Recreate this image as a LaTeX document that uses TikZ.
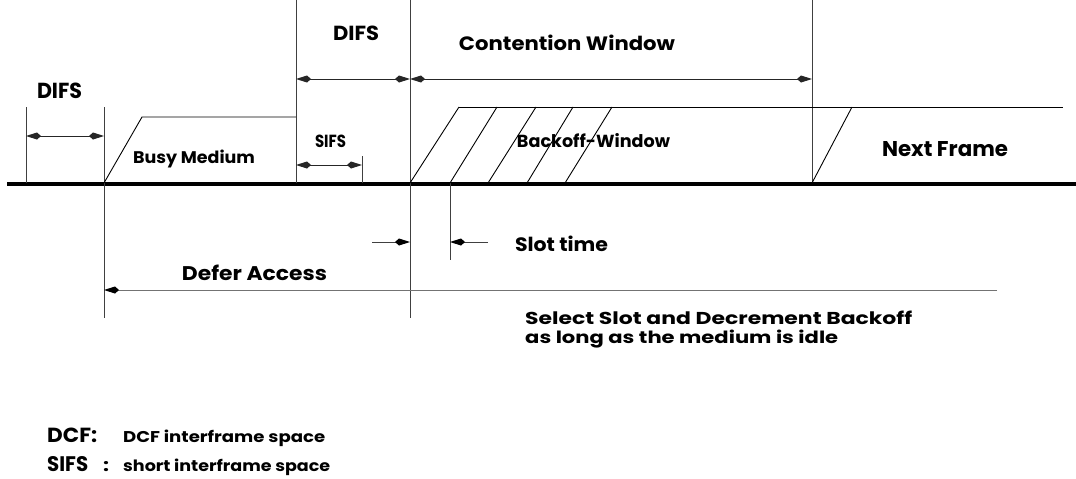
\documentclass[tikz,border=0pt]{standalone}
\usepackage{fontspec}
\setmainfont{Poppins}
\usetikzlibrary{arrows.meta}
\newcommand{\fw}[3]{\resizebox{#1pt}{#2pt}{#3}}
\begin{document}
\begin{tikzpicture}[x=1pt,y=-1pt,
  thinl/.style={line width=1pt, draw=black!75},
  kt/.tip={Kite[length=15pt,width=7pt,inset=4pt]},
  ktb/.tip={Kite[length=15pt,width=7pt,inset=4pt,color=black]},
  dimboth/.style={line width=1pt, draw=black!85, kt-kt},
  dimend/.style={line width=1pt, draw=black!75, -ktb},
  lbl/.style={inner sep=0pt, font=\bfseries, anchor=base},
  lblw/.style={inner sep=0pt, font=\bfseries, anchor=base west},
]
\useasboundingbox (0,0) rectangle (1076,479);
% baseline
\coordinate (b0) at (7,184);
\coordinate (b1) at (1076,184);
\draw[line width=4pt] (b0) -- (b1);
% vertical markers
\coordinate (v1t) at (26,107);   \coordinate (v1b) at (26,183);
\coordinate (v2t) at (104,107);  \coordinate (v2b) at (104,318);
\coordinate (v3t) at (296,0);    \coordinate (v3b) at (296,183);
\coordinate (v4t) at (410,0);    \coordinate (v4b) at (410,318);
\coordinate (v5t) at (812,0);    \coordinate (v5b) at (812,183);
\coordinate (v6t) at (450,183);  \coordinate (v6b) at (450,260);
\coordinate (v7t) at (362,156);  \coordinate (v7b) at (362,183);
\foreach \v in {1,...,7} \draw[thinl] (v\v t) -- (v\v b);
% busy medium
\coordinate (bm0) at (104,183);
\coordinate (bm1) at (142,117);
\coordinate (bm2) at (296,117);
\draw[line width=0.9pt] (bm0) -- (bm1) -- (bm2);
% backoff window
\coordinate (bw1) at (1063,107);
\foreach \i/\b/\t in {1/410/459, 2/450/497, 3/488/536, 4/527/573, 5/565/612}{
  \coordinate (sb\i) at (\b,183);
  \coordinate (st\i) at (\t,107);
  \draw[line width=0.9pt] (sb\i) -- (st\i);
}
\draw[line width=0.9pt] (st1) -- (bw1);
% next frame
\coordinate (nf0) at (812,183);
\coordinate (nf1) at (852,107);
\draw[line width=0.9pt] (nf0) -- (nf1);
% dimension arrows
\coordinate (d1a) at (26,136);  \coordinate (d1b) at (104,136);
\draw[dimboth] (d1a) -- (d1b);
\coordinate (d2a) at (296,79);  \coordinate (d2b) at (410,79);
\draw[dimboth] (d2a) -- (d2b);
\coordinate (cwa) at (410,79);  \coordinate (cwb) at (812,79);
\draw[dimboth] (cwa) -- (cwb);
\coordinate (sfa) at (296,165); \coordinate (sfb) at (362,165);
\draw[dimboth] (sfa) -- (sfb);
% slot time
\coordinate (sl0) at (372,242); \coordinate (sl1) at (410,242);
\coordinate (sr0) at (488,242); \coordinate (sr1) at (450,242);
\draw[dimend] (sl0) -- (sl1);
\draw[dimend] (sr0) -- (sr1);
% defer access
\coordinate (df0) at (997,290); \coordinate (df1) at (104,290);
\draw[line width=1pt, draw=black!55, -ktb] (df0) -- (df1);
% labels
\node[lbl] (tdifs1) at (59.5,98) {\fw{45}{15.5}{DIFS}};
\node[lbl] (tdifs2) at (356,40) {\fw{46}{14.5}{DIFS}};
\node[lbl] (tcw) at (567,50) {\fw{216}{15.5}{Contention Window}};
\node[lbl] (tbm) at (194,163) {\fw{122}{13.5}{Busy Medium}};
\node[lbl] (tsifs) at (330.5,147) {\fw{31}{12.5}{SIFS}};
\node[lbl] (tbw) at (593.5,147) {\fw{153}{14}{Backoff-Window}};
\node[lbl] (tnf) at (945,156) {\fw{126}{15}{Next Frame}};
\node[lbl] (tst) at (561.5,251) {\fw{93}{15.5}{Slot time}};
\node[lbl] (tda) at (254.5,280) {\fw{145}{15.5}{Defer Access}};
\node[lblw] (tsel) at (525,324) {\fw{387}{13.5}{Select Slot and Decrement Backoff}};
\node[lblw] (tlong) at (525,343) {\fw{313}{13.5}{as long as the medium is idle}};
\node[lblw] (tdcf) at (47,442) {\fw{50}{14.5}{DCF:}};
\node[lblw] (tdcfx) at (123,442) {\fw{202}{12.5}{DCF interframe space}};
\node[lblw] (tsf) at (47,471) {\fw{41}{15}{SIFS}};
\node[lbl] (tcol) at (106,471) {\fw{6}{10}{:}};
\node[lblw] (tsfx) at (123,471) {\fw{207}{12.5}{short interframe space}};
\end{tikzpicture}
\end{document}
